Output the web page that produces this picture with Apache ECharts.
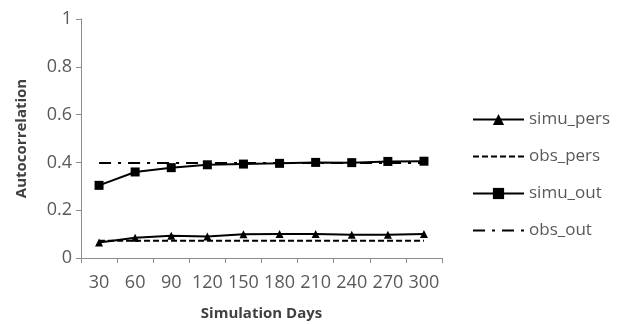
<!DOCTYPE html>
<html>
<head>
<meta charset="utf-8">
<script src="https://cdn.jsdelivr.net/npm/echarts@6/dist/echarts.min.js"></script>
<style>
  html, body { margin: 0; padding: 0; background: #fff; }
  #chart { width: 624px; height: 324px; }
</style>
</head>
<body>
<div id="chart"></div>
<script>
// simulation days on the x axis
const days = ['30', '60', '90', '120', '150', '180', '210', '240', '270', '300'];

// values
const simuPers = [0.065, 0.085, 0.093, 0.090, 0.099, 0.100, 0.100, 0.097, 0.097, 0.100];
const obsPers  = [0.072, 0.072, 0.072, 0.072, 0.072, 0.072, 0.072, 0.072, 0.072, 0.072];
const simuOut  = [0.304, 0.360, 0.378, 0.390, 0.393, 0.396, 0.400, 0.399, 0.404, 0.405];
const obsOut   = [0.397, 0.397, 0.397, 0.397, 0.397, 0.397, 0.397, 0.397, 0.397, 0.397];

const FONT = '"Open Sans", sans-serif';
const AXIS_GREY = '#8c8c8c';
const TEXT_GREY = '#595959';
const noMarker = { color: 'rgba(0,0,0,0)', borderWidth: 0 };

const chart = echarts.init(document.getElementById('chart'));

chart.setOption({
  backgroundColor: '#fff',
  animation: false,
  grid: { left: 81, right: 182, top: 19, bottom: 66, containLabel: false, outerBoundsMode: 'none' },
  legend: {
    orient: 'vertical',
    left: 472,
    top: 111,
    padding: 0,
    itemWidth: 51,
    itemHeight: 14,
    itemGap: 20,
    textStyle: { color: TEXT_GREY, fontSize: 17, fontFamily: FONT },
    data: [
      { name: 'simu_pers' },
      { name: 'obs_pers', itemStyle: noMarker },
      { name: 'simu_out' },
      { name: 'obs_out', itemStyle: noMarker },
    ],
  },
  xAxis: {
    type: 'category',
    data: days,
    boundaryGap: true,
    name: 'Simulation Days',
    nameLocation: 'middle',
    nameGap: 48,
    nameTextStyle: { color: '#404040', fontSize: 15, fontWeight: 'bold', fontFamily: FONT },
    axisLine: { lineStyle: { color: AXIS_GREY, width: 1 } },
    axisTick: { show: true, alignWithLabel: false, length: 5, lineStyle: { color: AXIS_GREY } },
    axisLabel: { color: TEXT_GREY, fontSize: 18, fontFamily: FONT, margin: 16, interval: 0 },
    splitLine: { show: false },
  },
  yAxis: {
    type: 'value',
    min: 0,
    max: 1,
    interval: 0.2,
    name: 'Autocorrelation',
    nameLocation: 'middle',
    nameGap: 52,
    nameTextStyle: { color: '#404040', fontSize: 15, fontWeight: 'bold', fontFamily: FONT },
    axisLine: { show: true, lineStyle: { color: AXIS_GREY, width: 1 } },
    axisTick: { show: true, length: 5, lineStyle: { color: AXIS_GREY } },
    axisLabel: { color: TEXT_GREY, fontSize: 18, fontFamily: FONT, margin: 9 },
    splitLine: { show: false },
  },
  series: [
    {
      name: 'simu_pers',
      type: 'line',
      data: simuPers,
      symbol: 'triangle',
      symbolSize: 8,
      showAllSymbol: true,
      lineStyle: { color: '#000', width: 2 },
      itemStyle: { color: '#000' },
      z: 4,
    },
    {
      name: 'obs_pers',
      type: 'line',
      data: obsPers,
      symbol: 'none',
      lineStyle: { color: '#000', width: 2, type: [6, 3] },
      itemStyle: { color: '#000' },
      z: 3,
    },
    {
      name: 'simu_out',
      type: 'line',
      data: simuOut,
      symbol: 'rect',
      symbolSize: 9,
      showAllSymbol: true,
      lineStyle: { color: '#000', width: 2 },
      itemStyle: { color: '#000' },
      z: 4,
    },
    {
      name: 'obs_out',
      type: 'line',
      data: obsOut,
      symbol: 'none',
      lineStyle: { color: '#000', width: 2, type: [12, 7, 3, 7] },
      itemStyle: { color: '#000' },
      z: 3,
    },
  ],
});
</script>
</body>
</html>
